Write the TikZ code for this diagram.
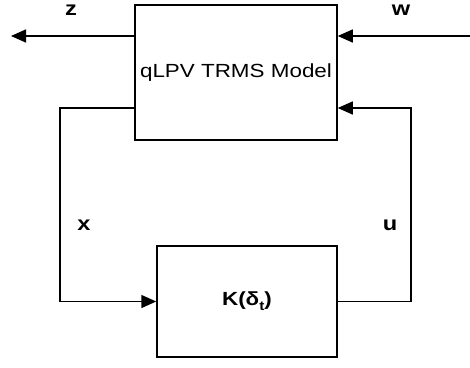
\documentclass[tikz,border=0pt]{standalone}
\usepackage{fontspec}
\setmainfont{Liberation Sans}[FakeStretch=1.18]
\usetikzlibrary{arrows.meta, positioning, calc}

\begin{document}
\begin{tikzpicture}[x=1pt, y=-1pt, line width=1.5pt,
  >={Triangle[length=15pt, width=13pt]},
  blk/.style={draw, inner sep=0pt, font=\fontsize{19}{22}\selectfont},
  sig/.style={font=\fontsize{20}{22}\selectfont\bfseries}]
  \useasboundingbox (0,0) rectangle (470,367);
  % blocks
  \node[blk, minimum width=202pt, minimum height=135pt] (plant) at (236,72.5) {qLPV TRMS Model};
  \node[blk, minimum width=180pt, minimum height=111pt] (ctrl) at (247,301.5) {\textbf{K(δ\raisebox{-5pt}{\fontsize{13}{13}\selectfont t})}};
  % corner points
  \coordinate (zend) at (11,36);
  \coordinate (wstart) at (470,36);
  \coordinate (xc) at (60,108);
  \coordinate (uc) at (411,108);
  % signals
  \draw[->] (plant.west |- zend) -- (zend);
  \draw[->] (wstart) -- (plant.east |- wstart);
  \draw[->] (plant.west |- xc) -- (xc) |- (ctrl.west);
  \draw[->] (ctrl.east) -| (uc) -- (plant.east |- uc);
  % labels
  \node[sig] (zlab) at (71,10) {z};
  \node[sig] (wlab) at (401,10) {w};
  \node[sig] (xlab) at (84,225) {x};
  \node[sig] (ulab) at (390,225) {u};
\end{tikzpicture}
\end{document}
